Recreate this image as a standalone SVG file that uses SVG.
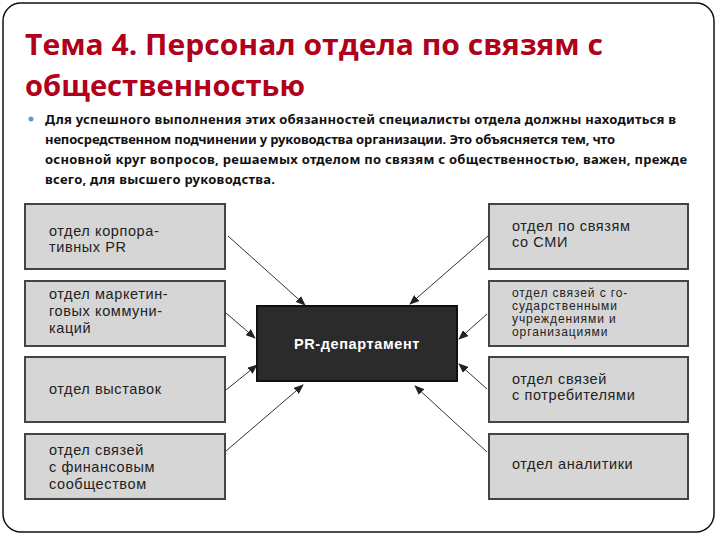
<svg xmlns="http://www.w3.org/2000/svg" width="720" height="540" viewBox="0 0 720 540">
<style>
.t{font-family:"Open Sans","Noto Sans",sans-serif;font-size:29px;font-weight:bold;fill:#b0001a}
.b{font-family:"Noto Sans",sans-serif;font-size:13px;font-weight:bold;fill:#111}
.box{fill:#d6d6d6;stroke:#444;stroke-width:2}
.l{font-family:"Liberation Sans",Arial,sans-serif;font-size:14.5px;fill:#222;letter-spacing:0.6px}
.s{font-size:12px;letter-spacing:0.9px}
.c{stroke:#333;stroke-width:1;fill:none;marker-end:url(#a)}
</style>
<defs><marker id="a" markerWidth="10" markerHeight="8" refX="9" refY="4" orient="auto" markerUnits="userSpaceOnUse"><path d="M0,0L10,4L0,8z" fill="#222"/></marker></defs>
<rect x="3" y="3" width="711" height="529" rx="18" fill="#fff" stroke="#111" stroke-width="1.5"/>
<text class="t" x="25" y="55" textLength="578" lengthAdjust="spacingAndGlyphs">Тема 4. Персонал отдела по связям с</text>
<text class="t" x="25" y="96" textLength="280" lengthAdjust="spacingAndGlyphs">общественностью</text>
<circle cx="31" cy="119" r="2.5" fill="#5b9bd5"/>
<g class="b">
<text x="45" y="124" textLength="631">Для успешного выполнения этих обязанностей специалисты отдела должны находиться в</text>
<text x="45" y="144" textLength="570">непосредственном подчинении у руководства организации. Это объясняется тем, что</text>
<text x="45" y="164" textLength="642">основной круг вопросов, решаемых отделом по связям с общественностью, важен, прежде</text>
<text x="45" y="184" textLength="230">всего, для высшего руководства.</text>
</g>
<g id="connectors">
<line class="c" x1="228" y1="236" x2="305" y2="305"/>
<line class="c" x1="226" y1="313" x2="255" y2="338"/>
<line class="c" x1="226" y1="390" x2="257" y2="365"/>
<line class="c" x1="226" y1="451" x2="303" y2="385"/>
<line class="c" x1="488" y1="236" x2="410" y2="304"/>
<line class="c" x1="487" y1="314" x2="459" y2="339"/>
<line class="c" x1="487" y1="389" x2="459" y2="364"/>
<line class="c" x1="487" y1="452" x2="415" y2="386"/>
</g>
<g id="center"><rect x="257" y="306" width="200" height="75" fill="#2b2b2b" stroke="#111" stroke-width="2"/>
<text x="357" y="349" text-anchor="middle" font-family="Liberation Sans,Arial,sans-serif" font-weight="bold" font-size="14.5" fill="#fff" letter-spacing="0.6">PR-департамент</text></g>
<g id="l1"><rect class="box" x="25" y="204" width="200" height="65"/><text class="l" x="49" y="236">отдел корпора-</text><text class="l" x="49" y="252">тивных PR</text></g>
<g id="l2"><rect class="box" x="25" y="281" width="200" height="65"/><text class="l" x="49" y="299">отдел маркетин-</text><text class="l" x="49" y="316">говых коммуни-</text><text class="l" x="49" y="333">каций</text></g>
<g id="l3"><rect class="box" x="25" y="357" width="200" height="65"/><text class="l" x="49" y="394">отдел выставок</text></g>
<g id="l4"><rect class="box" x="25" y="434" width="200" height="65"/><text class="l" x="49" y="455">отдел связей</text><text class="l" x="49" y="472">с финансовым</text><text class="l" x="49" y="489">сообществом</text></g>
<g id="r1"><rect class="box" x="489" y="204" width="199" height="65"/><text class="l" x="512" y="231">отдел по связям</text><text class="l" x="512" y="247">со СМИ</text></g>
<g id="r2"><rect class="box" x="489" y="281" width="199" height="65"/><text class="l s" x="512" y="297">отдел связей с го-</text><text class="l s" x="512" y="310">сударственными</text><text class="l s" x="512" y="323">учреждениями и</text><text class="l s" x="512" y="336">организациями</text></g>
<g id="r3"><rect class="box" x="489" y="357" width="199" height="65"/><text class="l" x="512" y="384">отдел связей</text><text class="l" x="512" y="400">с потребителями</text></g>
<g id="r4"><rect class="box" x="489" y="434" width="199" height="65"/><text class="l" x="512" y="469">отдел аналитики</text></g>
</svg>
